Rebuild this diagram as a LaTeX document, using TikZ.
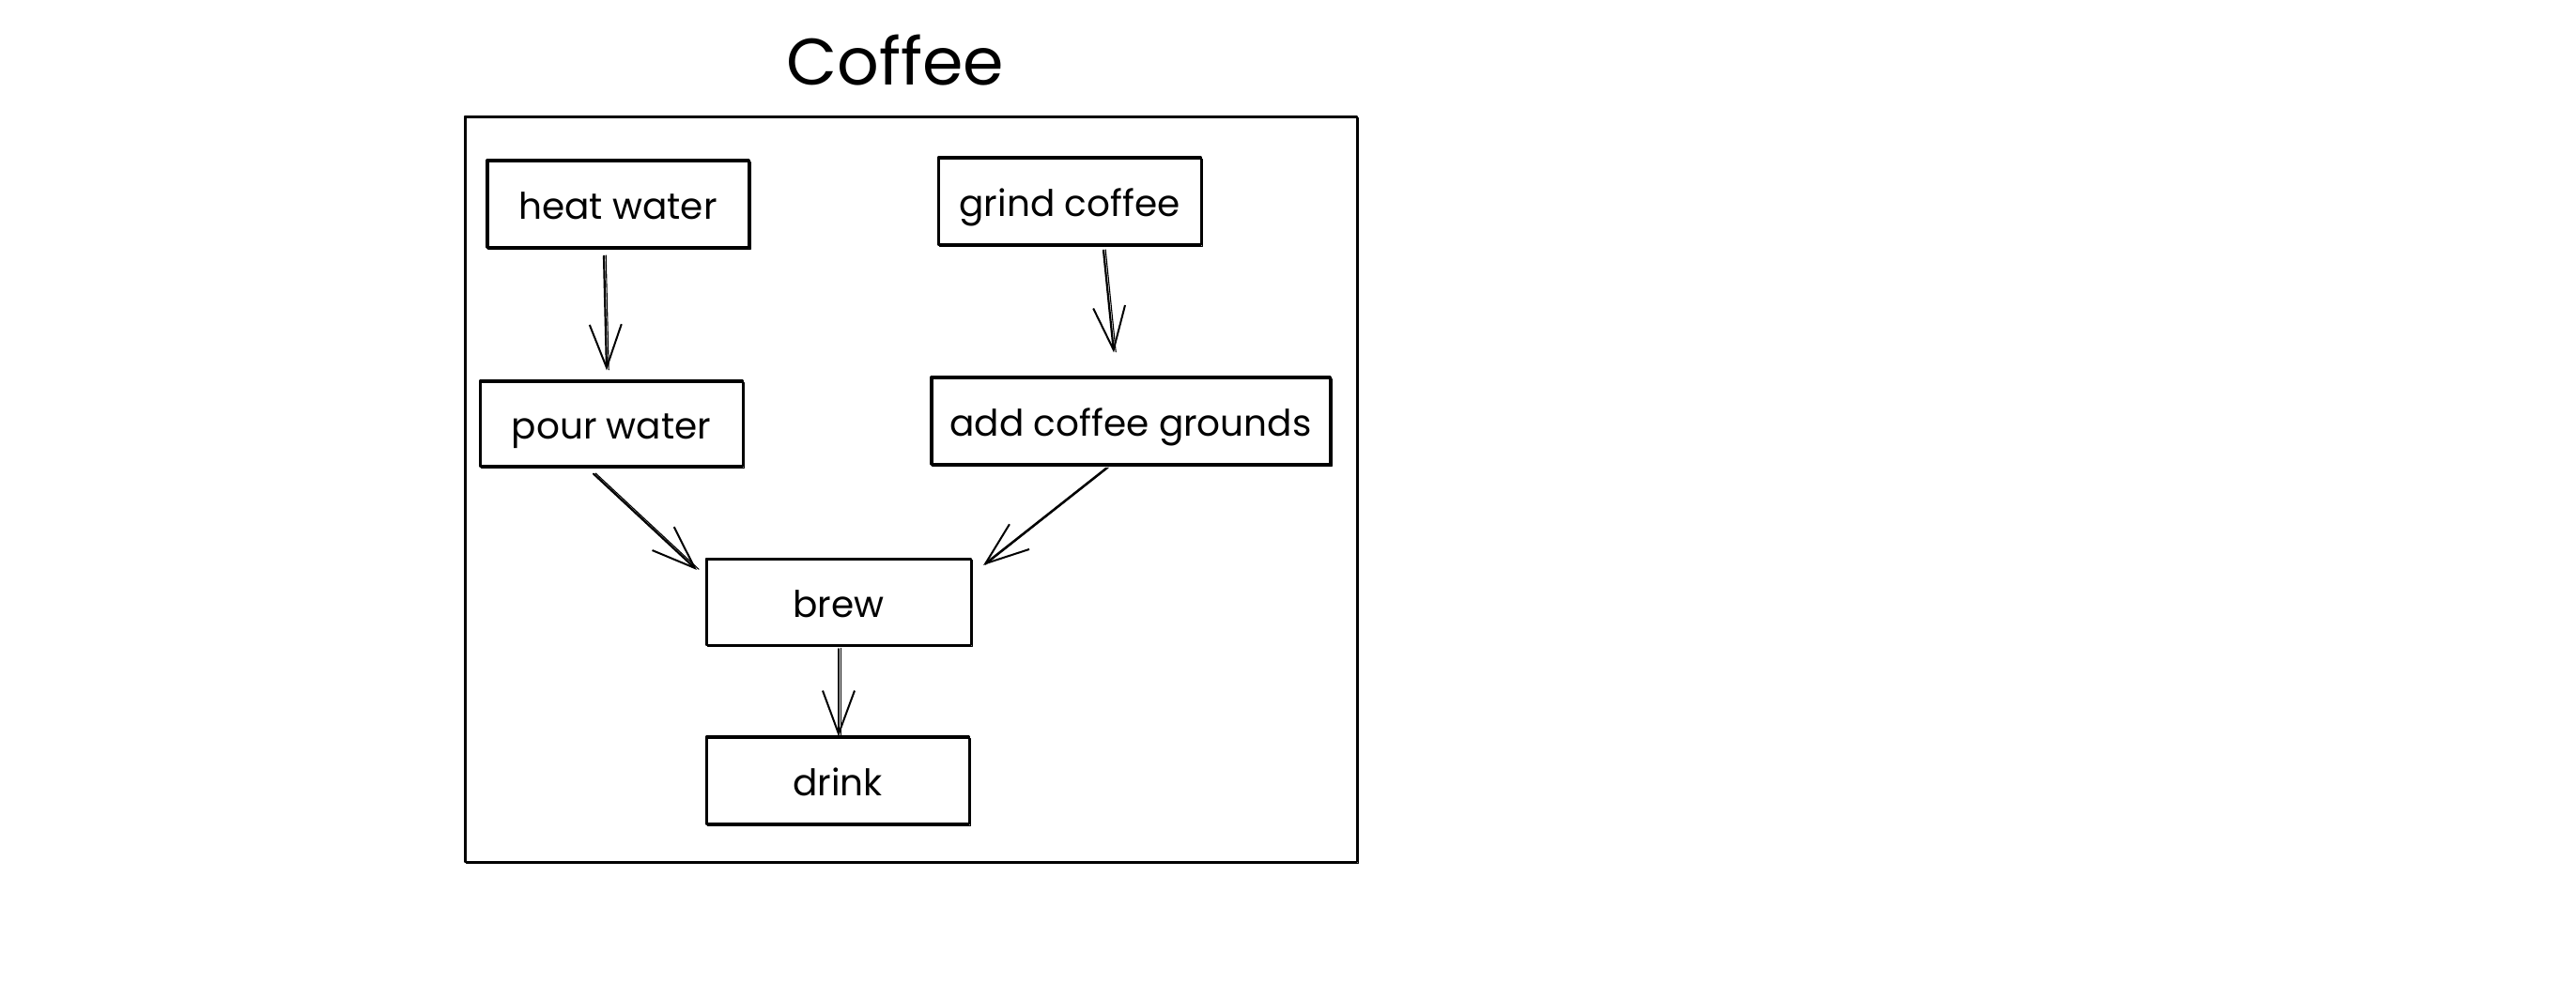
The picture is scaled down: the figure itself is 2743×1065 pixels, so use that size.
\documentclass[tikz,border=0pt]{standalone}
\usepackage{fontspec}
\setmainfont{Poppins}
\usetikzlibrary{arrows.meta}
\begin{document}
\begin{tikzpicture}[x=1pt,y=-1pt,
  inkline/.style={line width=2.2pt, line join=round, line cap=round},
  sketchbox/.style={inkline, draw, rectangle, inner sep=0pt,
    font=\fontsize{39}{44}\selectfont, text height=36pt, text depth=4pt,
    postaction={draw, line width=1.3pt,
      transform canvas={shift={(1.4pt,-1.8pt)}}}},
  flowarrow/.style={inkline, -{Straight Barb[length=46pt, width=34pt, line width=2pt]},
    postaction={draw, line width=1.1pt, -,
      transform canvas={shift={(2.2pt,0.6pt)}}}},
  titletext/.style={font=\fontsize{70}{76}\selectfont, inner sep=0pt}
]
  % canvas
  \useasboundingbox (0,0) rectangle (2743,1065);
  \fill[white] (0,0) rectangle (2743,1065);

  % title and enclosing frame
  \node[titletext] (title) at (953,64) {Coffee};
  \node[sketchbox, minimum width=950pt, minimum height=794pt] (frame) at (970,521) {};

  % steps
  \node[sketchbox, minimum width=279pt, minimum height=93pt] (heat)  at (658,217) {heat water};
  \node[sketchbox, minimum width=280pt, minimum height=93pt] (grind) at (1139,214) {grind coffee};
  \node[sketchbox, minimum width=280pt, minimum height=91pt] (pour)  at (651,451) {pour water};
  \node[sketchbox, minimum width=425pt, minimum height=93pt] (add)   at (1204,448) {add coffee grounds};
  \node[sketchbox, minimum width=282pt, minimum height=92pt] (brew)  at (893,641) {brew};
  \node[sketchbox, minimum width=280pt, minimum height=93pt] (drink) at (892,831) {drink};

  % connectors
  \draw[flowarrow] ([shift={(-15,8)}]heat.south) -- ([shift={(-5,-10)}]pour.north);
  \draw[flowarrow] ([shift={(36,5)}]grind.south) -- ([shift={(-18,-25)}]add.north);
  \draw[flowarrow] ([shift={(-19,7)}]pour.south) -- ([shift={(-9,13)}]brew.north west);
  \draw[flowarrow] ([shift={(-26,3)}]add.south) -- ([shift={(12,8)}]brew.north east);
  \draw[flowarrow] ([shift={(0,3)}]brew.south) -- ([shift={(1,1)}]drink.north);
\end{tikzpicture}
\end{document}
